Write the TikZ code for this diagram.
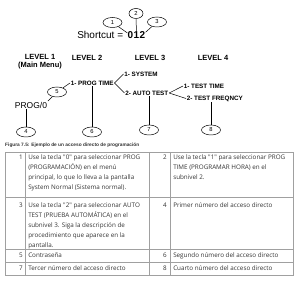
\documentclass[tikz,border=0pt]{standalone}
\usepackage{fontspec}
\setmainfont{Liberation Sans}
\newfontfamily\tabfont{Open Sans}
\usetikzlibrary{shapes, calc, positioning}

\definecolor{txtgray}{RGB}{51,51,51}
\definecolor{rulegray}{RGB}{160,160,160}

\tikzset{
    num/.style={draw, ellipse, line width=0.5pt, minimum width=19pt, minimum height=10pt, inner sep=0pt, font=\fontsize{5.8}{6}\selectfont},
    lvl/.style={font=\bfseries\fontsize{7.5}{8}\selectfont, align=center, inner sep=0pt},
    item/.style={font=\bfseries\fontsize{6.3}{7}\selectfont, inner sep=0.6pt, anchor=west},
    cell/.style={font=\tabfont\fontsize{6.3}{9.9}\selectfont, text=txtgray, anchor=north west, inner sep=0pt, align=left},
    cellno/.style={font=\tabfont\fontsize{6.3}{9.9}\selectfont, text=txtgray, anchor=north east, inner sep=0pt},
    tabline/.style={draw=rulegray, line width=0.5pt}
}

\begin{document}
\begin{tikzpicture}[x=1pt, y=-1pt, line width=0.5pt]
    \useasboundingbox (0,0) rectangle (300,288);

    % shortcut
    \node[anchor=base west, inner sep=0pt, font=\fontsize{10}{12}\selectfont] (sc) at (77,38.5) {Shortcut =};
    \node[anchor=base west, inner sep=0pt, font=\bfseries\fontsize{10}{12}\selectfont] (d0) at ($(sc.base east)+(4,0)$) {0};
    \node[anchor=base west, inner sep=0pt, font=\bfseries\fontsize{10}{12}\selectfont] (d1) at (d0.base east) {1};
    \node[anchor=base west, inner sep=0pt, font=\bfseries\fontsize{10}{12}\selectfont] (d2) at (d1.base east) {2};
    \node[num] (c1) at (112.5,22.5) {1};
    \node[num, minimum width=14pt] (c2) at (136,13.5) {2};
    \node[num] (c3) at (157,22) {3};
    \draw (c1) -- (d0);
    \draw (c2) -- (d1);
    \draw (c3) -- (d2);

    % levels
    \node[lvl] (l1) at (40,61.5) {LEVEL 1\\(Main Menu)};
    \node[lvl] (l2) at (87,58) {LEVEL 2};
    \node[lvl] (l3) at (150,58) {LEVEL 3};
    \node[lvl] (l4) at (213,58) {LEVEL 4};

    % menu tree
    \node[anchor=center, inner sep=0.6pt, font=\fontsize{8.5}{10}\selectfont] (prog) at (31,105) {PROG/0};
    \node[item] (ptime) at (70,83) {1- PROG TIME};
    \node[item] (sys) at (123.5,74) {1- SYSTEM};
    \node[item] (auto) at (124.5,93) {2- AUTO TEST};
    \node[item] (ttime) at (183,86) {1- TEST TIME};
    \node[item] (tfreq) at (186,98.5) {2- TEST FREQNCY};
    \draw (ptime.east) -- (sys.west);
    \draw (ptime.east) -- (auto.west);
    \draw (auto.east) -- (ttime.west);
    \draw (auto.east) -- (tfreq.west);

    \node[num] (c5) at (57,92) {5};
    \node[num] (c4) at (26,132) {4};
    \node[num] (c6) at (92,132) {6};
    \node[num] (c7) at (149,130) {7};
    \node[num] (c8) at (211,130) {8};
    \draw (prog.north east) -- (c5);
    \draw (c5) -- (ptime.west);
    \draw (prog.south -| c4) -- (c4);
    \draw (ptime.south -| c6) -- (c6);
    \draw (auto.south -| c7) -- (c7);
    \draw (tfreq.south -| c8) -- (c8);

    % caption
    \node[anchor=west, inner sep=0pt, text=txtgray, font=\bfseries\fontsize{4.8}{6}\selectfont] (cap) at (5,145) {Figura 7.5: Ejemplo de un acceso directo de programación};

    % table
    \draw[tabline] (5,152) rectangle (293,275);
    \foreach \y in {197.5,249,262} \draw[tabline] (5,\y) -- (293,\y);
    \foreach \x in {25,149,170} \draw[tabline] (\x,152) -- (\x,275);

    \node[cellno] (n1) at (23,154.5) {1};
    \node[cell] (t1) at (28,154.5) {Use la tecla "0" para seleccionar PROG\\(PROGRAMACIÓN) en el menú\\principal, lo que lo lleva a la pantalla\\System Normal (Sistema normal).};
    \node[cellno] (n2) at (167,154.5) {2};
    \node[cell] (t2) at (173,154.5) {Use la tecla "1" para seleccionar PROG\\TIME (PROGRAMAR HORA) en el\\subnivel 2.};
    \node[cellno] (n3) at (23,202.5) {3};
    \node[cell] (t3) at (28,202.5) {Use la tecla "2" para seleccionar AUTO\\TEST (PRUEBA AUTOMÁTICA) en el\\subnivel 3. Siga la descripción de\\procedimiento que aparece en la\\pantalla.};
    \node[cellno] (n4) at (167,202.5) {4};
    \node[cell] (t4) at (173,202.5) {Primer número del acceso directo};
    \node[cellno] (n5) at (23,252.5) {5};
    \node[cell] (t5) at (28,252.5) {Contraseña};
    \node[cellno] (n6) at (167,252.5) {6};
    \node[cell] (t6) at (173,252.5) {Segundo número del acceso directo};
    \node[cellno] (n7) at (23,265.5) {7};
    \node[cell] (t7) at (28,265.5) {Tercer número del acceso directo};
    \node[cellno] (n8) at (167,265.5) {8};
    \node[cell] (t8) at (173,265.5) {Cuarto número del acceso directo};
\end{tikzpicture}
\end{document}
